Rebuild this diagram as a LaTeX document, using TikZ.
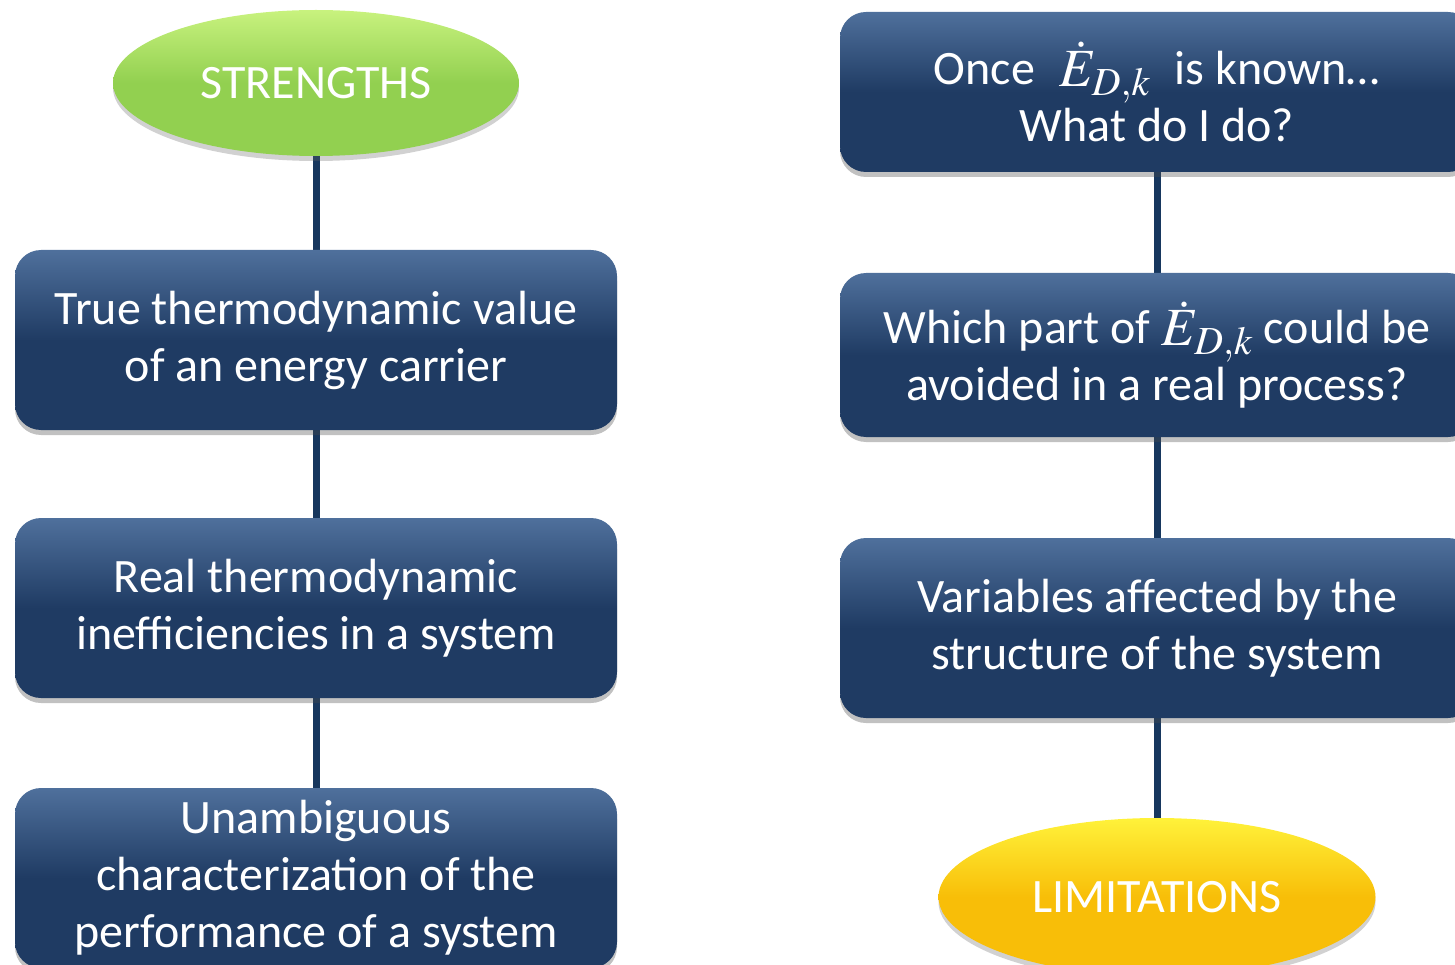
\documentclass[tikz,border=0pt]{standalone}
\usepackage{graphicx}
\usepackage{mathptmx}
\usepackage[no-math]{fontspec}
\setmainfont{Carlito}
\usetikzlibrary{shapes.geometric,shadows,backgrounds}

\definecolor{navy}{HTML}{1F3B63}
\definecolor{navytop}{HTML}{4F709C}
\definecolor{navyline}{HTML}{17375E}
\definecolor{leafgreen}{HTML}{92D050}
\definecolor{leaflight}{HTML}{C8F27E}
\definecolor{gold}{HTML}{F8BE08}
\definecolor{goldlight}{HTML}{FFF23A}

% exergy destruction rate of component k
\newcommand{\destr}{\raisebox{-2pt}{\scalebox{1.12}{$\dot{E}_{D,k}$}}}

\tikzset{
  card/.style={rectangle, rounded corners=26pt, inner sep=0pt,
    top color=navytop, bottom color=navy, middle color=navy,
    shading angle=0,
    drop shadow={shadow xshift=0pt, shadow yshift=-5pt, opacity=0.35, fill=black!70},
    text=white, align=center,
    font=\fontsize{48}{57}\selectfont},
  leftcard/.style={card, minimum width=602pt, minimum height=180pt},
  rightcard/.style={card, minimum width=634pt},
  badge/.style={ellipse, inner sep=0pt, text=white,
    font=\fontsize{48}{52}\selectfont,
    drop shadow={shadow xshift=0pt, shadow yshift=-5pt, opacity=0.3, fill=black!60}},
  link/.style={draw=navyline, line width=7pt},
}

\begin{document}
\begin{tikzpicture}[x=1pt,y=-1pt]
\useasboundingbox (0,0) rectangle (1455,965);

% left column
\node[badge, minimum width=406pt, minimum height=146pt,
      top color=leaflight, bottom color=leafgreen, middle color=leafgreen]
  (strengths) at (316,83) {STRENGTHS};
\node[leftcard] (value) at (316,340)
  {True thermodynamic value\\of an energy carrier};
\node[leftcard] (ineff) at (316,608)
  {Real thermodynamic\\inefficiencies in a system};
\node[leftcard] (perf) at (316,878)
  {Unambiguous\\characterization of the\\performance of a system};

% right column
\node[rightcard, minimum height=160pt] (once) at (1157,92)
  {Once\enspace\destr\enspace is known\dots\\What do I do?};
\node[rightcard, minimum height=164pt] (avoid) at (1157,355)
  {Which part of \destr{} could be\\avoided in a real process?};
\node[rightcard, minimum height=180pt] (struct) at (1157,628)
  {Variables affected by the\\structure of the system};
\node[badge, minimum width=437pt, minimum height=158pt,
      top color=goldlight, bottom color=gold, middle color=gold]
  (limits) at (1157,897) {LIMITATIONS};

% connectors behind the shapes
\begin{pgfonlayer}{background}
  \draw[link] (strengths.south) -- (value.north);
  \draw[link] (value.south) -- (ineff.north);
  \draw[link] (ineff.south) -- (perf.north);
  \draw[link] (once.south) -- (avoid.north);
  \draw[link] (avoid.south) -- (struct.north);
  \draw[link] (struct.south) -- (limits.north);
\end{pgfonlayer}
\end{tikzpicture}
\end{document}
